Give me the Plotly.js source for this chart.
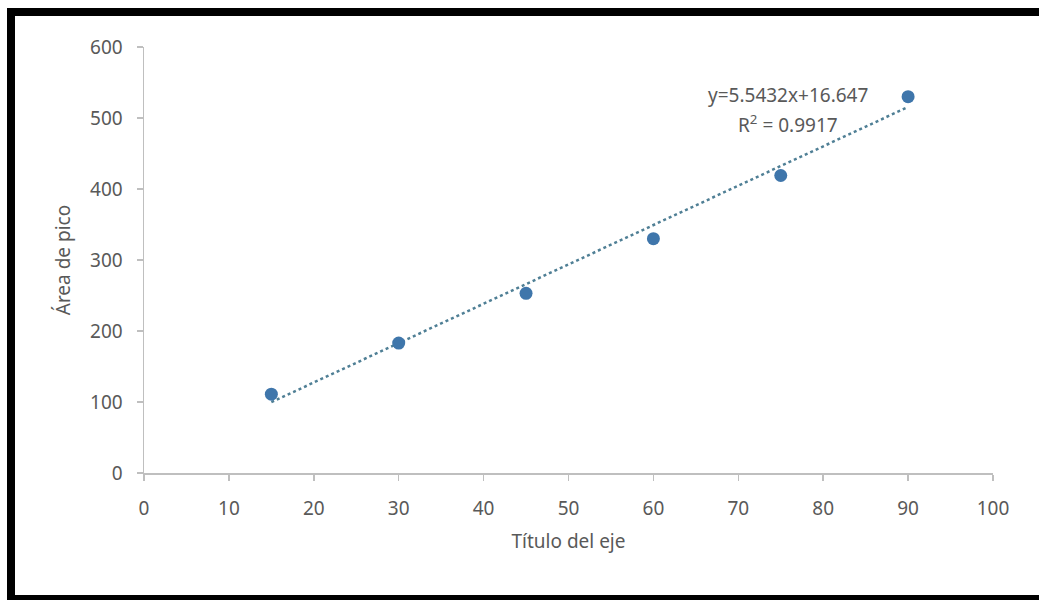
<!DOCTYPE html>
<html>
<head>
<meta charset="utf-8">
<script src="https://cdn.plot.ly/plotly-3.0.1.min.js"></script>
<style>
  html, body { margin:0; padding:0; background:#ffffff; overflow:hidden; }
  #chart { position:absolute; left:0; top:0; width:1039px; height:600px; }
  #frame { position:absolute; left:7px; top:8px; width:1100px; height:594px; box-sizing:border-box;
           border-left:8px solid #000; border-top:8px solid #000; border-bottom:7px solid #000;
           pointer-events:none; }
</style>
</head>
<body>
<div id="chart"></div>
<div id="frame"></div>
<script>
// Data
const tiempo = [15, 30, 45, 60, 75, 90];
const area = [111, 183, 253, 330, 419, 530];
const slope = 5.5432;
const intercept = 16.647;
const eqText = 'y=5.5432x+16.647';
const r2Text = 'R<sup>2</sup> = 0.9917';
const xTicks = [0, 10, 20, 30, 40, 50, 60, 70, 80, 90, 100];
const yTicks = [0, 100, 200, 300, 400, 500, 600];

const trendX = [Math.min(...tiempo), Math.max(...tiempo)];
const trendY = trendX.map(v => slope * v + intercept);

const FONT = 'Noto Sans, Open Sans, sans-serif';
const GREY = '#595959';

const traces = [
  {
    x: trendX, y: trendY, type: 'scatter', mode: 'lines',
    line: { color: '#4f7f95', width: 2.5, dash: 'dot' },
    hoverinfo: 'skip', showlegend: false
  },
  {
    x: tiempo, y: area, type: 'scatter', mode: 'markers',
    marker: { color: '#3f76ab', size: 13 },
    showlegend: false
  }
];

const axisCommon = {
  showgrid: false, zeroline: false, showline: true,
  linecolor: '#bfbfbf', linewidth: 1.5,
  ticks: 'outside', ticklen: 6, tickcolor: '#bfbfbf', tickwidth: 1.5,
  tickfont: { family: FONT, size: 19, color: GREY },
  automargin: false, fixedrange: true
};

const layout = {
  width: 1039, height: 600,
  margin: { l: 144, r: 46, t: 47, b: 127 },
  paper_bgcolor: '#ffffff', plot_bgcolor: '#ffffff',
  showlegend: false,
  xaxis: Object.assign({}, axisCommon, {
    range: [0, 100], tickmode: 'array', tickvals: xTicks,
    ticklabelstandoff: 12,
    title: { text: 'Título del eje', font: { family: FONT, size: 19, color: GREY }, standoff: 14 }
  }),
  yaxis: Object.assign({}, axisCommon, {
    range: [0, 600], tickmode: 'array', tickvals: yTicks,
    ticklabelstandoff: 10,
    title: { text: 'Área de pico', font: { family: FONT, size: 19, color: GREY }, standoff: 14 }
  }),
  annotations: [
    { x: 75.9, y: 533, xref: 'x', yref: 'y', text: eqText, showarrow: false,
      xanchor: 'center', yanchor: 'middle', font: { family: FONT, size: 19, color: GREY } },
    { x: 75.9, y: 491, xref: 'x', yref: 'y', text: r2Text, showarrow: false,
      xanchor: 'center', yanchor: 'middle', font: { family: FONT, size: 19, color: GREY } }
  ]
};

Plotly.newPlot('chart', traces, layout, { displayModeBar: false, staticPlot: true });
</script>
</body>
</html>
